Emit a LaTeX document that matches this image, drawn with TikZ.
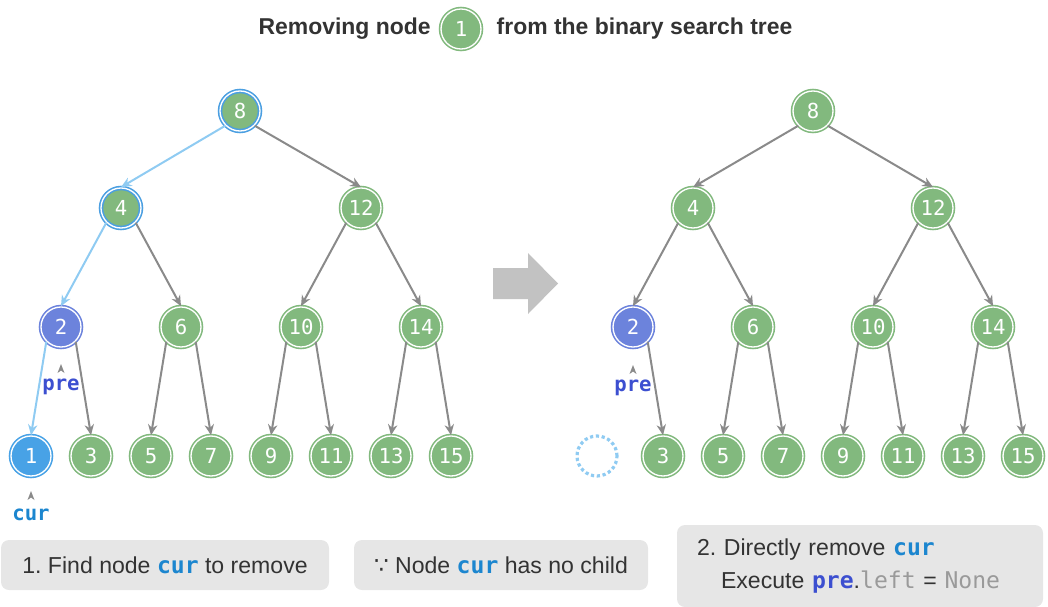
\documentclass[tikz,border=0pt]{standalone}
\usepackage{fontspec}
\setmainfont{Liberation Sans}
\setmonofont{DejaVu Sans Mono}
\newfontfamily\symfont{DejaVu Sans}
\usetikzlibrary{arrows.meta,positioning}
\frenchspacing

\definecolor{nodegreen}{HTML}{82B97E}
\definecolor{hiblue}{HTML}{4B9FE1}
\definecolor{prefill}{HTML}{6C83DC}
\definecolor{curfill}{HTML}{48A2E6}
\definecolor{edgegray}{HTML}{8A8A8A}
\definecolor{pathblue}{HTML}{8FCBF2}
\definecolor{boxgray}{HTML}{E6E6E6}
\definecolor{curtext}{HTML}{1C86CF}
\definecolor{pretext}{HTML}{3C4FD0}
\definecolor{txt}{HTML}{333333}
\definecolor{codegray}{HTML}{9A9A9A}
\definecolor{arrowgray}{HTML}{C2C2C2}

\newcommand{\curcode}{\textcolor{curtext}{\ttfamily\bfseries cur}}
\newcommand{\precode}{\textcolor{pretext}{\ttfamily\bfseries pre}}

\begin{document}
\begin{tikzpicture}[x=0.75pt, y=-0.75pt,
  tnode/.style={circle,fill=nodegreen,draw=nodegreen,double=white,double distance=1pt,line width=1.2pt,minimum size=30pt,inner sep=0pt,text=white,font=\ttfamily\fontsize{15.5}{15.5}\selectfont},
  hinode/.style={tnode,draw=hiblue},
  prenode/.style={tnode,fill=prefill,draw=prefill},
  curnode/.style={tnode,fill=curfill,draw=curfill},
  edge/.style={draw=edgegray,line width=1.5pt,-{Stealth[length=8pt,width=7pt]}},
  pathedge/.style={edge,draw=pathblue},
  caret/.style={fill=edgegray},
  ptr/.style={inner sep=0pt,font=\ttfamily\bfseries\fontsize{15.5}{15.5}\selectfont},
  titletext/.style={inner sep=0pt,text=txt,font=\bfseries\fontsize{17.2}{20}\selectfont},
  note/.style={fill=boxgray,rounded corners=6pt,text=txt,minimum height=37.5pt,font=\fontsize{17.3}{20}\selectfont}]
\useasboundingbox (0,0) rectangle (1048,606);

% title
\node[tnode] (tc) at (461,29) {1};
\node[titletext,left=7pt of tc] (tl) {Removing node};
\node[titletext,right=11pt of tc] (tr) {from the binary search tree};

% left tree: search for cur
\node[hinode] (l8) at (240,111) {8};
\node[hinode] (l4) at (121,208) {4};
\node[tnode] (l12) at (361,208) {12};
\node[prenode] (l2) at (61,327) {2};
\node[tnode] (l6) at (181,327) {6};
\node[tnode] (l10) at (301,327) {10};
\node[tnode] (l14) at (421,327) {14};
\node[curnode] (l1) at (31,456) {1};
\node[tnode] (l3) at (91,456) {3};
\node[tnode] (l5) at (151,456) {5};
\node[tnode] (l7) at (211,456) {7};
\node[tnode] (l9) at (271,456) {9};
\node[tnode] (l11) at (331,456) {11};
\node[tnode] (l13) at (391,456) {13};
\node[tnode] (l15) at (451,456) {15};
\draw[pathedge] (l8.-135) -- (l4.north);
\draw[edge] (l8.-45) -- (l12.north);
\draw[pathedge] (l4.-135) -- (l2.north);
\draw[edge] (l4.-45) -- (l6.north);
\draw[edge] (l12.-135) -- (l10.north);
\draw[edge] (l12.-45) -- (l14.north);
\draw[pathedge] (l2.-135) -- (l1.north);
\draw[edge] (l2.-45) -- (l3.north);
\draw[edge] (l6.-135) -- (l5.north);
\draw[edge] (l6.-45) -- (l7.north);
\draw[edge] (l10.-135) -- (l9.north);
\draw[edge] (l10.-45) -- (l11.north);
\draw[edge] (l14.-135) -- (l13.north);
\draw[edge] (l14.-45) -- (l15.north);
\node[ptr,text=pretext] (lpre) at (61,387) {pre};
\fill[caret] (57.5,373) -- (61,364) -- (64.5,373) -- (61,370.5) -- cycle;
\node[ptr,text=curtext] (lcur) at (31,515) {cur};
\fill[caret] (27.5,500) -- (31,491) -- (34.5,500) -- (31,497.5) -- cycle;

% arrow between the trees
\fill[arrowgray] (493,268) -- (528,268) -- (528,253) -- (558,283.5) -- (528,314) -- (528,299) -- (493,299) -- cycle;

% right tree: cur removed
\node[tnode] (r8) at (813,111) {8};
\node[tnode] (r4) at (693,208) {4};
\node[tnode] (r12) at (933,208) {12};
\node[prenode] (r2) at (633,327) {2};
\node[tnode] (r6) at (753,327) {6};
\node[tnode] (r10) at (873,327) {10};
\node[tnode] (r14) at (993,327) {14};
\node[circle,draw=pathblue,dotted,line width=2.4pt,minimum size=30pt] (r1) at (597,456) {};
\node[tnode] (r3) at (663,456) {3};
\node[tnode] (r5) at (723,456) {5};
\node[tnode] (r7) at (783,456) {7};
\node[tnode] (r9) at (843,456) {9};
\node[tnode] (r11) at (903,456) {11};
\node[tnode] (r13) at (963,456) {13};
\node[tnode] (r15) at (1023,456) {15};
\draw[edge] (r8.-135) -- (r4.north);
\draw[edge] (r8.-45) -- (r12.north);
\draw[edge] (r4.-135) -- (r2.north);
\draw[edge] (r4.-45) -- (r6.north);
\draw[edge] (r12.-135) -- (r10.north);
\draw[edge] (r12.-45) -- (r14.north);
\draw[edge] (r2.-45) -- (r3.north);
\draw[edge] (r6.-135) -- (r5.north);
\draw[edge] (r6.-45) -- (r7.north);
\draw[edge] (r10.-135) -- (r9.north);
\draw[edge] (r10.-45) -- (r11.north);
\draw[edge] (r14.-135) -- (r13.north);
\draw[edge] (r14.-45) -- (r15.north);
\node[ptr,text=pretext] (rpre) at (633,388) {pre};
\fill[caret] (629.5,374) -- (633,365) -- (636.5,374) -- (633,371.5) -- cycle;

% notes
\node[note,minimum width=246pt] (n1) at (165,565) {1. Find node \curcode{} to remove};
\node[note,minimum width=220.5pt] (n2) at (501,565) {{\symfont ∵} Node \curcode{} has no child};
\node[note,minimum width=274.5pt,minimum height=61.5pt,inner xsep=15pt,text width=244.5pt,align=left,font=\fontsize{17.3}{24.75}\selectfont] (n3) at (860,566) {2. Directly remove \curcode\\\hspace*{18pt}Execute \precode.\textcolor{codegray}{\ttfamily left} = \textcolor{codegray}{\ttfamily None}};
\end{tikzpicture}
\end{document}
